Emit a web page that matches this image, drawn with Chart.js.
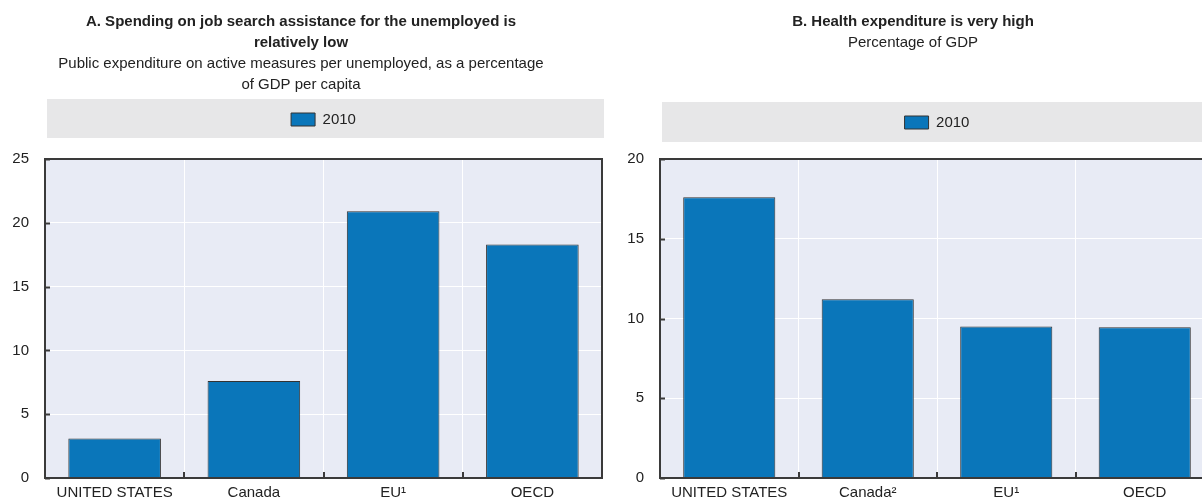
<!DOCTYPE html>
<html>
<head>
<meta charset="utf-8">
<script src="https://cdn.jsdelivr.net/npm/chart.js@4.4.0/dist/chart.umd.min.js"></script>
<style>
  html, body { margin: 0; padding: 0; background: #ffffff; }
  body { width: 1202px; height: 503px; overflow: hidden; position: relative; }
  canvas { position: absolute; top: 0; }
  #chartA { left: 0px; }
  #chartB { left: 612px; }
</style>
</head>
<body>
<canvas id="chartA" width="626" height="503"></canvas>
<canvas id="chartB" width="640" height="503"></canvas>
<script>
// ---- Data ----
const seriesLabel = '2010';
const categoriesA = ['UNITED STATES', 'Canada', 'EU\u00B9', 'OECD'];
const valuesA = [3.1, 7.6, 20.9, 18.3];
const yTicksA = [0, 5, 10, 15, 20, 25];

const categoriesB = ['UNITED STATES', 'Canada\u00B2', 'EU\u00B9', 'OECD'];
const valuesB = [17.6, 11.2, 9.5, 9.45];
const yTicksB = [0, 5, 10, 15, 20];

const titleA = ['A. Spending on job search assistance for the unemployed is', 'relatively low'];
const subtitleA = ['Public expenditure on active measures per unemployed, as a percentage', 'of GDP per capita'];
const titleB = ['B. Health expenditure is very high'];
const subtitleB = ['Percentage of GDP'];

// ---- Style ----
const FONT = '"Liberation Sans", Arial, Helvetica, sans-serif';
const TEXT = '#222222';
const BAR = '#0a76ba';
const BAR_BORDER = '#333333';
const PLOT_BG = '#e8ebf5';
const BAND_BG = '#e7e7e8';
const FRAME = '#3a3a3a';

const framePlugin = {
  id: 'framePlugin',
  beforeDraw(chart, args, opts) {
    const ctx = chart.ctx;
    const a = chart.chartArea;
    const lg = chart.legend;
    ctx.save();
    ctx.fillStyle = PLOT_BG;
    ctx.fillRect(a.left, a.top, a.right - a.left, a.bottom - a.top);
    if (lg) {
      ctx.fillStyle = BAND_BG;
      ctx.fillRect(lg.left + 2, lg.top + opts.bandTop, lg.right - lg.left, lg.bottom - lg.top - opts.bandTop + opts.bandExtra);
    }
    ctx.restore();
  },
  afterDatasetsDraw(chart) {
    const ctx = chart.ctx;
    const a = chart.chartArea;
    const xs = chart.scales.x;
    const ys = chart.scales.y;
    ctx.save();
    ctx.strokeStyle = FRAME;
    ctx.lineWidth = 2;
    ctx.strokeRect(a.left, a.top, a.right - a.left, a.bottom - a.top);
    ctx.beginPath();
    ys.ticks.forEach(t => {
      const y = Math.round(ys.getPixelForValue(t.value)) + 0.5;
      ctx.moveTo(a.left, y);
      ctx.lineTo(a.left + 5, y);
    });
    for (let i = 1; i < xs.ticks.length; i++) {
      const x = Math.round((xs.getPixelForValue(i - 1) + xs.getPixelForValue(i)) / 2);
      ctx.moveTo(x, a.bottom);
      ctx.lineTo(x, a.bottom - 6);
    }
    ctx.stroke();
    ctx.restore();
  }
};

function makeChart(id, cats, vals, yTicks, title, subtitle, cfg) {
  return new Chart(document.getElementById(id), {
    type: 'bar',
    data: {
      labels: cats,
      datasets: [{
        label: seriesLabel,
        data: vals,
        backgroundColor: BAR,
        borderColor: BAR_BORDER,
        borderWidth: 1,
        categoryPercentage: 1.0,
        barPercentage: 0.665
      }]
    },
    options: {
      responsive: false,
      animation: false,
      events: [],
      layout: { padding: { left: 0, right: cfg.padRight, top: 0, bottom: 0 } },
      plugins: {
        title: {
          display: true,
          text: title,
          color: TEXT,
          font: { family: FONT, size: 15, weight: 'bold', lineHeight: 1.4 },
          padding: { top: 11, bottom: 0 }
        },
        subtitle: {
          display: true,
          text: subtitle,
          color: TEXT,
          font: { family: FONT, size: 15, weight: 'normal', lineHeight: 1.4 },
          padding: { top: 0, bottom: cfg.subPad }
        },
        legend: {
          display: true,
          position: 'top',
          fullSize: false,
          labels: {
            color: TEXT,
            font: { family: FONT, size: 15 },
            boxWidth: 24,
            boxHeight: 13,
            padding: 13
          }
        },
        tooltip: { enabled: false },
        framePlugin: { bandTop: 0, bandExtra: cfg.bandExtra }
      },
      scales: {
        x: {
          type: 'category',
          position: 'bottom',
          grid: { display: true, color: '#ffffff', lineWidth: 1, drawTicks: false, offset: true },
          border: { display: false },
          ticks: { color: TEXT, font: { family: FONT, size: 15 }, padding: 6, maxRotation: 0, autoSkip: false },
          afterFit(s) { s.height = 21.5; }
        },
        gap: {
          type: 'linear',
          axis: 'x',
          position: 'top',
          display: true,
          grid: { display: false, drawTicks: false },
          border: { display: false },
          ticks: { display: false },
          afterFit(s) { s.height = cfg.gap; }
        },
        y: {
          type: 'linear',
          min: yTicks[0],
          max: yTicks[yTicks.length - 1],
          afterBuildTicks(s) { s.ticks = yTicks.map(v => ({ value: v })); },
          grid: { display: true, color: '#ffffff', lineWidth: 1, drawTicks: false },
          border: { display: false },
          ticks: { color: TEXT, font: { family: FONT, size: 15 }, padding: 16 },
          afterFit(s) { s.width = cfg.yWidth; }
        }
      }
    },
    plugins: [framePlugin]
  });
}

makeChart('chartA', categoriesA, valuesA, yTicksA, titleA, subtitleA,
  { padRight: 24, subPad: 4, gap: 22, yWidth: 45, bandExtra: 1 });
makeChart('chartB', categoriesB, valuesB, yTicksB, titleB, subtitleB,
  { padRight: 38, subPad: 49, gap: 19, yWidth: 48, bandExtra: 2 });
</script>
</body>
</html>
